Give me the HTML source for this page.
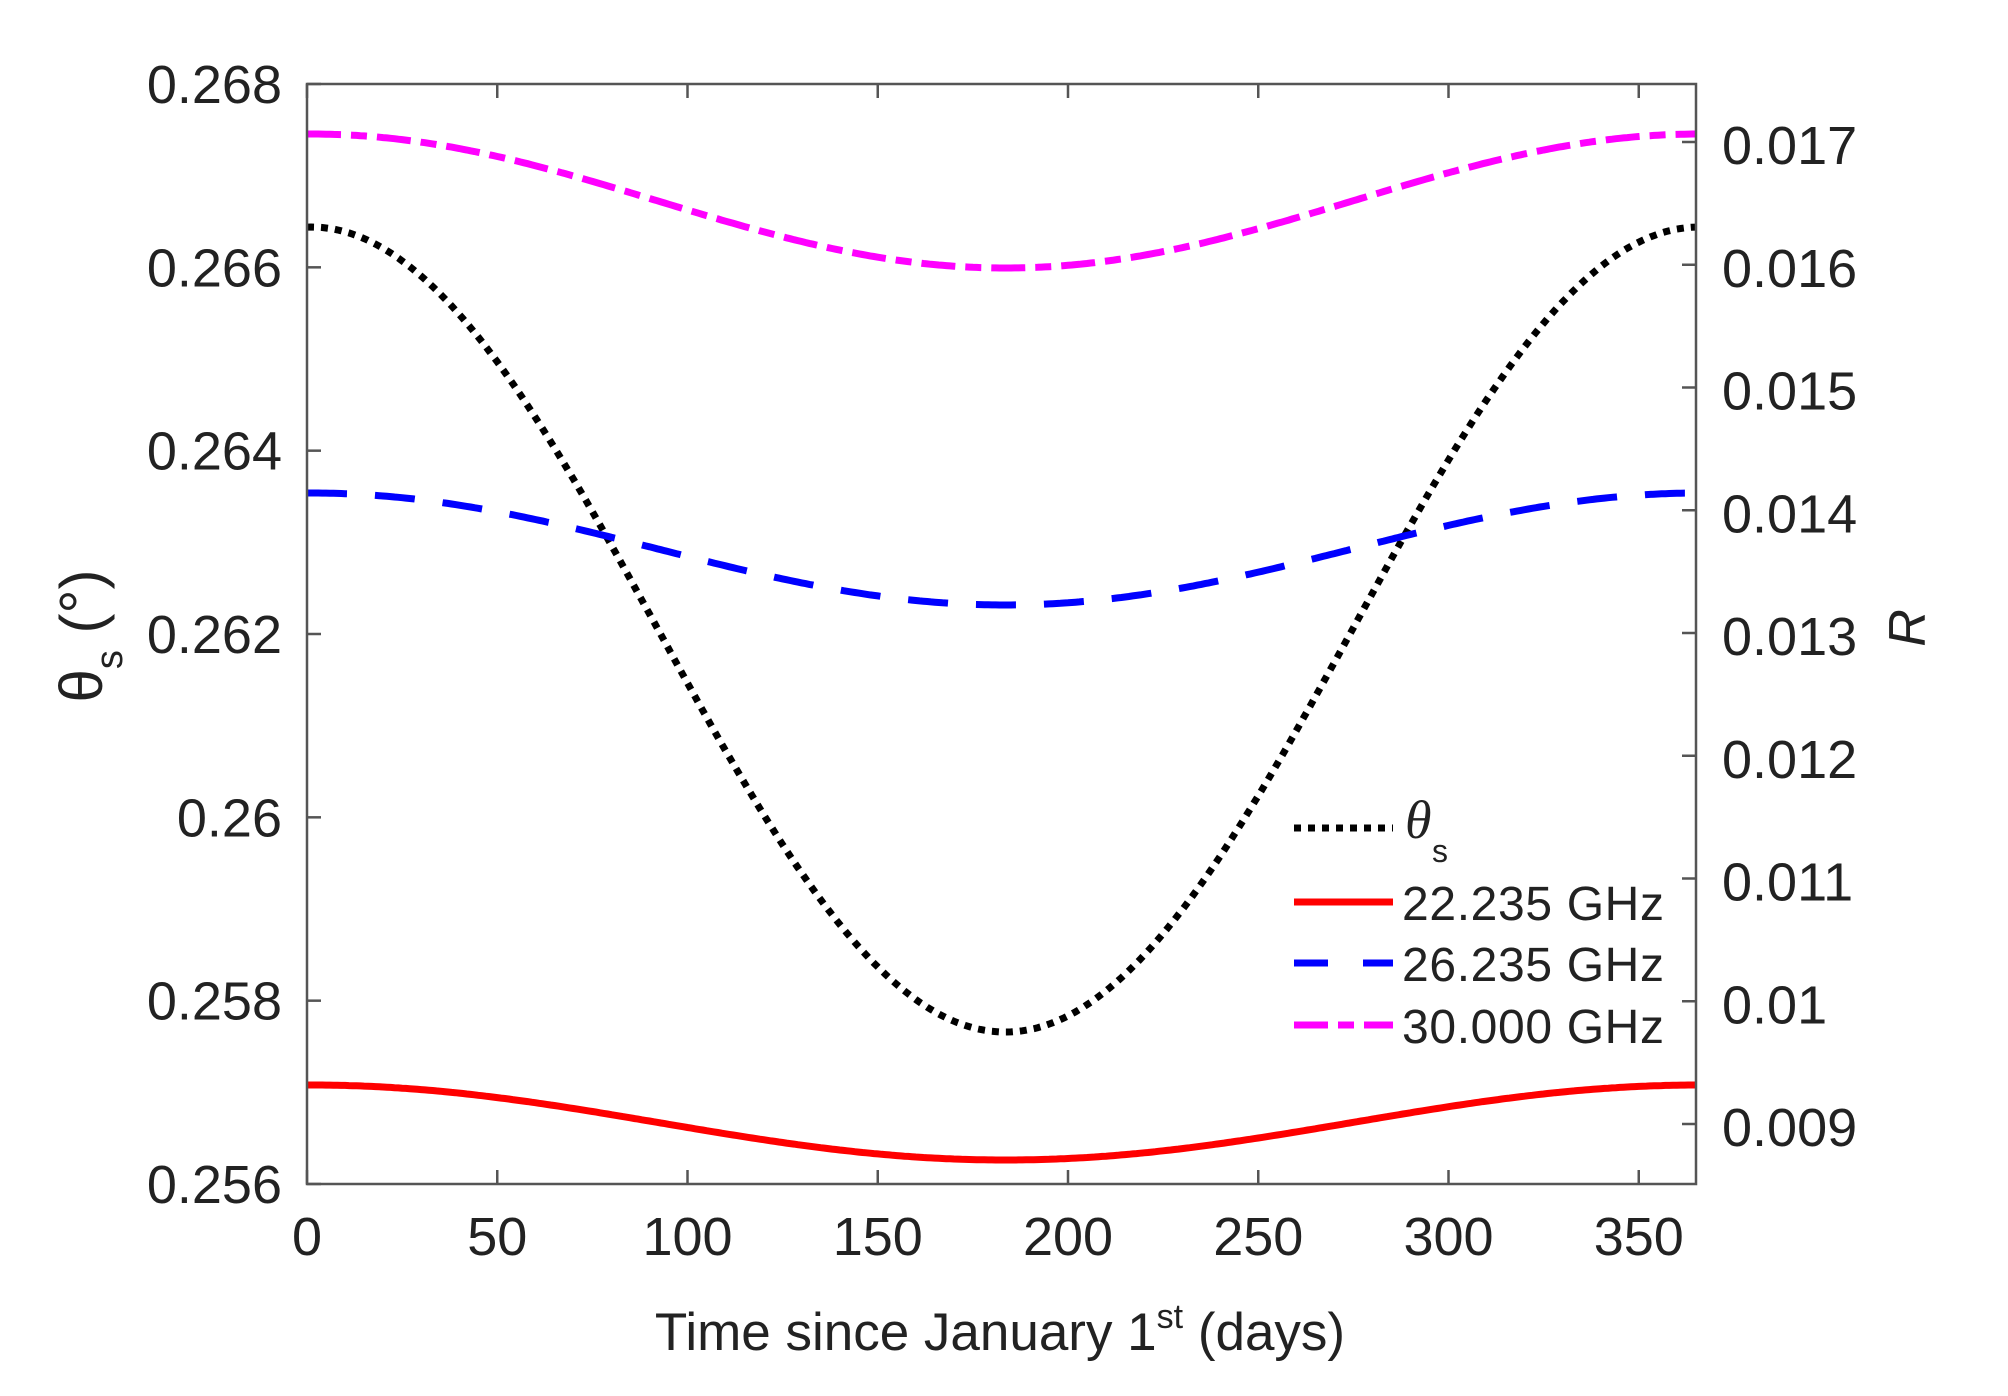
<!DOCTYPE html>
<html><head><meta charset="utf-8"><style>
html,body{margin:0;padding:0;background:#fff;}
svg{display:block;font-family:"Liberation Sans",sans-serif;}
</style></head><body>
<svg id="s" width="2008" height="1396" viewBox="0 0 2008 1396" xmlns="http://www.w3.org/2000/svg">
<rect width="2008" height="1396" fill="#fff"/>
<g id="curves"></g>
<rect x="307" y="84" width="1389" height="1100" fill="none" stroke="#555" stroke-width="2.5"/>
<g id="ticks" stroke="#555" stroke-width="2.5"></g>
<g id="labels" font-size="54" fill="#222"></g>
<text x="1000" y="1350" font-size="53" fill="#222" text-anchor="middle">Time since January 1<tspan font-size="34" dy="-22">st</tspan><tspan dy="22"> (days)</tspan></text>
<text transform="translate(102,636) rotate(-90)" font-size="60" fill="#222" text-anchor="middle">θ<tspan font-size="38" dy="20">s</tspan><tspan dy="-20"> (°)</tspan></text>
<text transform="translate(1925,628) rotate(-90)" font-size="52" fill="#222" font-style="italic" text-anchor="middle">R</text>
<g stroke-width="7" fill="none">
<line x1="1294" y1="828" x2="1393" y2="828" stroke="#000" stroke-dasharray="7,7"/>
<line x1="1294" y1="902" x2="1393" y2="902" stroke="#f00"/>
<line x1="1294" y1="963" x2="1393" y2="963" stroke="#00f" stroke-dasharray="34,35"/>
<line x1="1294" y1="1025" x2="1393" y2="1025" stroke="#f0f" stroke-dasharray="34,10,16,10"/>
</g>
<g font-size="48" fill="#222">
<text x="1405" y="838" font-style="italic" font-family="Liberation Serif,serif" font-size="54">θ</text>
<text x="1432" y="862" font-size="32">s</text>
<text x="1402" y="920" textLength="262">22.235 GHz</text>
<text x="1402" y="981" textLength="262">26.235 GHz</text>
<text x="1402" y="1043" textLength="262">30.000 GHz</text>
</g>
</svg>
<script>
var NS="http://www.w3.org/2000/svg";
function X(t){return 307+t*3.805;}
function curve(y0,ymin,color,dash,w){
  var d="";
  for(var t=0;t<=365;t+=1){
    var c=(1+Math.cos(2*Math.PI*(t-1)/365))/2;
    var y=ymin+(y0-ymin)*c;
    d+=(t?"L":"M")+X(t).toFixed(1)+","+y.toFixed(1);
  }
  var p=document.createElementNS(NS,"path");
  p.setAttribute("d",d);p.setAttribute("fill","none");p.setAttribute("stroke",color);
  p.setAttribute("stroke-width",w);if(dash)p.setAttribute("stroke-dasharray",dash);
  document.getElementById("curves").appendChild(p);
}
curve(134,268,"#f0f","34,10,16,10",7);
curve(227,1032,"#000","7,7",7);
curve(493,605,"#00f","40,28",7);
curve(1085,1160,"#f00",null,7);
var tk=document.getElementById("ticks"),lb=document.getElementById("labels");
function line(x1,y1,x2,y2){var l=document.createElementNS(NS,"line");l.setAttribute("x1",x1);l.setAttribute("y1",y1);l.setAttribute("x2",x2);l.setAttribute("y2",y2);tk.appendChild(l);}
function txt(x,y,s,anchor){var t=document.createElementNS(NS,"text");t.setAttribute("x",x);t.setAttribute("y",y);t.setAttribute("text-anchor",anchor);t.textContent=s;lb.appendChild(t);}
for(var i=0;i<=7;i++){var x=X(i*50);line(x,1184,x,1170);line(x,84,x,98);txt(x,1255,String(i*50),"middle");}
var L=["0.256","0.258","0.26","0.262","0.264","0.266","0.268"];
for(var i=0;i<7;i++){var y=1184-i*1100/6;line(307,y,321,y);txt(282,y+19,L[i],"end");}
var R=["0.009","0.01","0.011","0.012","0.013","0.014","0.015","0.016","0.017"];
for(var i=0;i<9;i++){var y=1124-i*122.75;line(1696,y,1682,y);txt(1722,y+22,R[i],"start");}
</script>
</body></html>
